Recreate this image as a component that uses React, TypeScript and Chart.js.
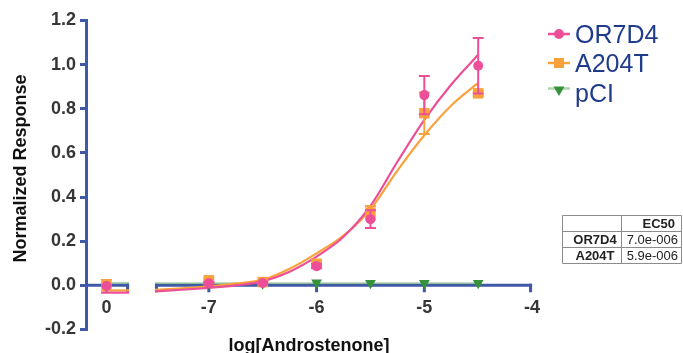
import React, { useEffect, useRef } from "react";
import { Chart, registerables } from "chart.js";

Chart.register(...registerables);

const FONT = '"Liberation Sans", Arial, Helvetica, sans-serif';
const AXIS_BLUE = "#3F58A8";
const PINK = "#EC4F97";
const ORANGE = "#F9A23D";
const GREEN = "#36913B";
const GREEN_FIT = "rgba(54,145,59,0.4)";
const LEGEND_NAVY = "#1F3B8C";
const TICK_GRAY = "#363636";

// ---- data ----
const SERIES_NAMES = ["OR7D4", "A204T", "pCI"];
const CONTROL_X = -7.95; // position of the "0" (no ligand) control left of the axis break
const CONTROL_LABEL = "0";
const DOSE_X = [-7, -6.5, -6, -5.5, -5, -4.5];
const X_TICKS = [-7, -6, -5, -4];
const X_MIN = -8.14;
const X_MAX = -3.88;
const BREAK_LEFT_END = -7.74;
const BREAK_RIGHT_START = -7.5;
const X_AXIS_END = -4;
const Y_MIN = -0.2;
const Y_MAX = 1.2;
const Y_STEP = 0.2;

const OR7D4_CTRL = -0.003;
const OR7D4_Y = [0.01, 0.011, 0.087, 0.3, 0.862, 0.995];
const OR7D4_ERR = [0.005, 0.005, 0.01, 0.04, 0.087, 0.126];
const A204T_CTRL = 0.005;
const A204T_Y = [0.023, 0.015, 0.098, 0.33, 0.78, 0.87];
const A204T_ERR = [0.008, 0.005, 0.01, 0.03, 0.094, 0.012];
const PCI_CTRL = 0.015;
const PCI_Y = [0.008, 0.008, 0.012, 0.01, 0.01, 0.01];

const FIT_X = [-7.5, -7.25, -7.0, -6.75, -6.5, -6.25, -6.0, -5.75, -5.5, -5.25, -5.0, -4.75, -4.5];
const OR7D4_FIT = [-0.027, -0.02, -0.011, 0.0, 0.018, 0.062, 0.13, 0.22, 0.36, 0.56, 0.75, 0.91, 1.045];
const A204T_FIT = [-0.02, -0.013, -0.004, 0.008, 0.025, 0.075, 0.145, 0.225, 0.345, 0.52, 0.68, 0.815, 0.917];
const PCI_FIT_X = [-7.5, -4.5];
const PCI_FIT = [0.009, 0.009];
const CTRL_FIT_X = [-8.0, -7.74];
const OR7D4_CTRL_FIT = [-0.033, -0.033];
const A204T_CTRL_FIT = [-0.023, -0.023];
const PCI_CTRL_FIT = [0.011, 0.011];

const EC50_HEADER = "EC50";
const EC50_ROWS = ["OR7D4", "A204T"];
const EC50_VALUES = ["7.0e-006", "5.9e-006"];

const X_TITLE = "log[Androstenone]";
const Y_TITLE = "Normalized Response";

function pts(ctrl: number, ys: number[]) {
  return [{ x: CONTROL_X, y: ctrl }, ...DOSE_X.map((x, i) => ({ x, y: ys[i] }))];
}
function line(xs: number[], ys: number[]) {
  return xs.map((x, i) => ({ x, y: ys[i] }));
}

const errorBarPlugin = {
  id: "errorBars",
  beforeDatasetDraw(chart: any, args: any) {
    const ds = chart.data.datasets[args.index];
    if (!ds.errs) return;
    const ctx = chart.ctx;
    const xs = chart.scales.x;
    const ys = chart.scales.y;
    ctx.save();
    ctx.strokeStyle = ds.errColor;
    ctx.lineWidth = 2;
    ds.data.forEach((p: any, i: number) => {
      const e = ds.errs[i];
      if (!e) return;
      const x = xs.getPixelForValue(p.x);
      const yt = ys.getPixelForValue(p.y + e);
      const yb = ys.getPixelForValue(p.y - e);
      ctx.beginPath();
      ctx.moveTo(x, yt);
      ctx.lineTo(x, yb);
      ctx.moveTo(x - 5.5, yt);
      ctx.lineTo(x + 5.5, yt);
      ctx.moveTo(x - 5.5, yb);
      ctx.lineTo(x + 5.5, yb);
      ctx.stroke();
    });
    ctx.restore();
  },
};

const xAxisPlugin = {
  id: "brokenXAxis",
  beforeDatasetsDraw(chart: any) {
    const ctx = chart.ctx;
    const xs = chart.scales.x;
    const ys = chart.scales.y;
    const y0 = ys.getPixelForValue(0);
    const p = (v: number) => xs.getPixelForValue(v);
    ctx.save();
    ctx.strokeStyle = AXIS_BLUE;
    ctx.lineWidth = 3;
    ctx.lineCap = "butt";
    ctx.beginPath();
    ctx.moveTo(p(X_MIN), y0);
    ctx.lineTo(p(BREAK_LEFT_END), y0);
    ctx.moveTo(p(BREAK_RIGHT_START), y0);
    ctx.lineTo(p(X_AXIS_END), y0);
    ctx.stroke();
    const tickVals = [CONTROL_X, ...X_TICKS, BREAK_LEFT_END, BREAK_RIGHT_START];
    ctx.beginPath();
    tickVals.forEach((v) => {
      let x = p(v);
      if (v === BREAK_LEFT_END || v === X_AXIS_END) x -= 1.5;
      if (v === BREAK_RIGHT_START) x += 1.5;
      ctx.moveTo(x, y0 - 1.5);
      ctx.lineTo(x, y0 + 7);
    });
    ctx.stroke();
    ctx.fillStyle = TICK_GRAY;
    ctx.font = `bold 18px ${FONT}`;
    ctx.textAlign = "center";
    ctx.textBaseline = "alphabetic";
    ctx.fillText(CONTROL_LABEL, p(CONTROL_X), y0 + 28);
    X_TICKS.forEach((v) => ctx.fillText(String(v), p(v), y0 + 28));
    ctx.fillStyle = "#111";
    ctx.fillText(X_TITLE, (p(X_MIN) + p(X_AXIS_END)) / 2, 350.5);
    ctx.restore();
  },
};

const decorPlugin = {
  id: "decor",
  afterDraw(chart: any) {
    const ctx = chart.ctx;
    ctx.save();
    // y title
    ctx.fillStyle = "#111";
    ctx.font = `bold 18px ${FONT}`;
    ctx.textAlign = "center";
    ctx.textBaseline = "alphabetic";
    ctx.translate(26, 168.5);
    ctx.rotate(-Math.PI / 2);
    ctx.fillText(Y_TITLE, 0, 0);
    ctx.restore();

    // legend
    ctx.save();
    const colors = [PINK, ORANGE, GREEN];
    const lineColors = [PINK, ORANGE, GREEN_FIT];
    const centers = [34, 63, 90.5];
    const baselines = [42.7, 71.7, 101.5];
    SERIES_NAMES.forEach((name, i) => {
      const cy = centers[i];
      ctx.strokeStyle = lineColors[i];
      ctx.lineWidth = 2.5;
      ctx.beginPath();
      ctx.moveTo(548, i === 2 ? cy - 2 : cy);
      ctx.lineTo(570, i === 2 ? cy - 2 : cy);
      ctx.stroke();
      ctx.fillStyle = colors[i];
      ctx.beginPath();
      if (i === 0) {
        ctx.arc(559, cy, 5, 0, Math.PI * 2);
      } else if (i === 1) {
        ctx.rect(554, cy - 5, 10, 10);
      } else {
        ctx.moveTo(553.5, cy - 4);
        ctx.lineTo(564.5, cy - 4);
        ctx.lineTo(559, cy + 5.5);
        ctx.closePath();
      }
      ctx.fill();
      ctx.fillStyle = LEGEND_NAVY;
      ctx.font = `25px ${FONT}`;
      ctx.textAlign = "left";
      ctx.textBaseline = "alphabetic";
      ctx.fillText(name, 575, baselines[i]);
    });
    ctx.restore();

    // EC50 table
    ctx.save();
    const xl = 562.5, xm = 621.5, xr = 681.5;
    const rowsY = [215.5, 231.5, 247.5, 263.5];
    ctx.strokeStyle = "#8C8C8C";
    ctx.lineWidth = 1;
    ctx.beginPath();
    rowsY.forEach((y) => {
      ctx.moveTo(xl, y);
      ctx.lineTo(xr, y);
    });
    [xl, xm, xr].forEach((x) => {
      ctx.moveTo(x, rowsY[0]);
      ctx.lineTo(x, rowsY[3]);
    });
    ctx.stroke();
    ctx.fillStyle = "#222";
    ctx.font = `bold 13px ${FONT}`;
    ctx.textAlign = "right";
    ctx.fillText(EC50_HEADER, 675, 228);
    EC50_ROWS.forEach((r, i) => {
      ctx.font = `bold 13px ${FONT}`;
      ctx.textAlign = "center";
      ctx.fillText(r, 595, 244 + i * 16);
      ctx.font = `13px ${FONT}`;
      ctx.textAlign = "right";
      ctx.fillText(EC50_VALUES[i], 678, 244 + i * 16);
    });
    ctx.restore();
  },
};

export default function App() {
  const ref = useRef<HTMLCanvasElement | null>(null);
  useEffect(() => {
    if (!ref.current) return;
    const chart = new Chart(ref.current, {
      type: "scatter",
      data: {
        datasets: [
          {
            label: SERIES_NAMES[0],
            data: pts(OR7D4_CTRL, OR7D4_Y),
            errs: [0, ...OR7D4_ERR],
            errColor: PINK,
            order: 0,
            pointStyle: "circle",
            pointRadius: 5,
            pointBackgroundColor: PINK,
            pointBorderWidth: 0,
            showLine: false,
            clip: false,
          } as any,
          {
            label: SERIES_NAMES[1],
            data: pts(A204T_CTRL, A204T_Y),
            errs: [0, ...A204T_ERR],
            errColor: ORANGE,
            order: 1,
            pointStyle: "rect",
            pointRadius: 7.4,
            pointBackgroundColor: ORANGE,
            pointBorderWidth: 0,
            showLine: false,
            clip: false,
          } as any,
          {
            label: SERIES_NAMES[2],
            data: pts(PCI_CTRL, PCI_Y),
            order: 2,
            pointStyle: "triangle",
            rotation: 180,
            pointRadius: 6.2,
            pointBackgroundColor: GREEN,
            pointBorderWidth: 0,
            showLine: false,
            clip: false,
          } as any,
          {
            label: "OR7D4 fit",
            data: line(FIT_X, OR7D4_FIT),
            order: 3,
            showLine: true,
            borderColor: PINK,
            borderWidth: 2.2,
            pointRadius: 0,
            cubicInterpolationMode: "monotone",
            clip: false,
          } as any,
          {
            label: "A204T fit",
            data: line(FIT_X, A204T_FIT),
            order: 4,
            showLine: true,
            borderColor: ORANGE,
            borderWidth: 2.2,
            pointRadius: 0,
            cubicInterpolationMode: "monotone",
            clip: false,
          } as any,
          {
            label: "pCI fit",
            data: line(PCI_FIT_X, PCI_FIT),
            order: 5,
            showLine: true,
            borderColor: GREEN_FIT,
            borderWidth: 2,
            pointRadius: 0,
            clip: false,
          } as any,
          {
            label: "OR7D4 ctrl fit",
            data: line(CTRL_FIT_X, OR7D4_CTRL_FIT),
            order: 6,
            showLine: true,
            borderColor: PINK,
            borderWidth: 2.2,
            pointRadius: 0,
            clip: false,
          } as any,
          {
            label: "A204T ctrl fit",
            data: line(CTRL_FIT_X, A204T_CTRL_FIT),
            order: 7,
            showLine: true,
            borderColor: ORANGE,
            borderWidth: 2.2,
            pointRadius: 0,
            clip: false,
          } as any,
          {
            label: "pCI ctrl fit",
            data: line(CTRL_FIT_X, PCI_CTRL_FIT),
            order: 8,
            showLine: true,
            borderColor: GREEN_FIT,
            borderWidth: 2,
            pointRadius: 0,
            clip: false,
          } as any,
        ],
      },
      options: {
        animation: false,
        responsive: false,
        devicePixelRatio: 1,
        layout: { padding: { left: 0, right: 138, top: 20.5, bottom: 23.5 } },
        plugins: { legend: { display: false }, tooltip: { enabled: false } },
        scales: {
          x: { type: "linear", display: false, min: X_MIN, max: X_MAX },
          y: {
            type: "linear",
            min: Y_MIN,
            max: Y_MAX,
            afterFit: (s: any) => {
              s.width = 86;
            },
            ticks: {
              stepSize: Y_STEP,
              padding: 4,
              color: TICK_GRAY,
              font: { family: FONT, size: 18, weight: "bold" },
              callback: (v: any) => {
                const n = Number(v);
                return (Math.abs(n) < 1e-9 ? 0 : n).toFixed(1);
              },
            },
            grid: {
              drawOnChartArea: false,
              drawTicks: true,
              tickLength: 6,
              color: AXIS_BLUE,
              lineWidth: 3,
            },
            border: { color: AXIS_BLUE, width: 3 },
          },
        },
      } as any,
      plugins: [errorBarPlugin, xAxisPlugin, decorPlugin],
    });
    return () => chart.destroy();
  }, []);
  return (
    <div style={{ position: "fixed", left: 0, top: 0, width: 683, height: 353, background: "#fff" }}>
      <canvas ref={ref} width={683} height={353} style={{ display: "block", width: 683, height: 353 }} />
    </div>
  );
}
